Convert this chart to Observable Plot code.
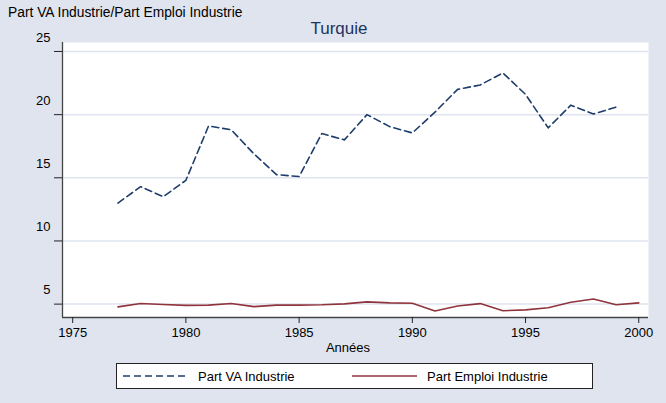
<!DOCTYPE html>
<html>
<head>
<meta charset="utf-8">
<script src="https://cdn.jsdelivr.net/npm/d3@7"></script>
<script src="https://cdn.jsdelivr.net/npm/@observablehq/plot@0.6"></script>
<style>
html, body { margin: 0; padding: 0; background: #dfe4ef; }
#wrap { position: relative; width: 666px; height: 403px; overflow: hidden; font-family: "Liberation Sans", Arial, sans-serif; color: #000; }
#wrap svg { position: absolute; left: 0; top: 0; }
.abs { position: absolute; white-space: nowrap; line-height: 1; }
#ytitle { left: 8px; top: 6px; font-size: 13.8px; }
#title { left: 339px; top: 20px; font-size: 17px; color: #1c3461; transform: translateX(-50%); }
#xtitle { left: 348px; top: 341px; font-size: 13px; transform: translateX(-50%); }
#legend { position: absolute; left: 116px; top: 363px; width: 475px; height: 24px; background: #fff; border: 1px solid #222; }
#legend .item { position: absolute; top: 0; height: 24px; display: flex; align-items: center; font-size: 13px; }
#legend svg { position: static; margin-right: 10px; }
</style>
</head>
<body>
<div id="wrap"></div>
<script>
// ---- data ----
const vaYears = [1977,1978,1979,1980,1981,1982,1983,1984,1985,1986,1987,1988,1989,1990,1991,1992,1993,1994,1995,1996,1997,1998,1999];
const partVA = [13.0,14.3,13.5,14.8,19.1,18.8,16.9,15.25,15.1,18.5,18.0,20.0,19.05,18.55,20.2,22.0,22.35,23.3,21.6,18.95,20.75,20.05,20.6];
const emploiYears = [1977,1978,1979,1980,1981,1982,1983,1984,1985,1986,1987,1988,1989,1990,1991,1992,1993,1994,1995,1996,1997,1998,1999,2000];
const partEmploi = [4.78,5.05,4.97,4.9,4.92,5.05,4.8,4.92,4.92,4.95,5.02,5.18,5.1,5.07,4.45,4.85,5.04,4.48,4.54,4.71,5.15,5.4,4.95,5.1];
const xTicks = [1975,1980,1985,1990,1995,2000];
const yTicks = [5,10,15,20,25];
const seriesNames = ["Part VA Industrie", "Part Emploi Industrie"];
const chartTitle = "Turquie";
const yTitle = "Part VA Industrie/Part Emploi Industrie";
const xTitle = "Années";

const navy = "#1e3d6d";
const maroon = "#8f343d";

const vaRows = vaYears.map((y, i) => ({year: y, value: partVA[i], series: seriesNames[0]}));
const emRows = emploiYears.map((y, i) => ({year: y, value: partEmploi[i], series: seriesNames[1]}));

const xDomain = [1974.55, 2000.43];
const yDomain = [3.94, 25.71];

const chart = Plot.plot({
  width: 666,
  height: 403,
  marginLeft: 62,
  marginRight: 18,
  marginTop: 42,
  marginBottom: 86,
  style: {background: "transparent", fontFamily: "'Liberation Sans', Arial, sans-serif", fontSize: "13px", color: "#000", overflow: "visible"},
  x: {domain: xDomain},
  y: {domain: yDomain},
  marks: [
    Plot.frame({fill: "#fff", stroke: null}),
    Plot.gridY(yTicks, {stroke: "#dfe4ef", strokeOpacity: 1, strokeWidth: 1.5}),
    Plot.ruleX([xDomain[0]], {stroke: "#444", strokeWidth: 1.3}),
    Plot.ruleY([yDomain[0]], {stroke: "#444", strokeWidth: 1.3}),
    Plot.axisX({ticks: xTicks, tickSize: 6, tickPadding: 4, tickFormat: d => String(d), label: null, stroke: "#222", fontSize: 13}),
    Plot.axisY({ticks: yTicks, tickSize: 8, tickFormat: () => "", label: null, stroke: "#222"}),
    Plot.text(yTicks, {y: d => d, text: d => String(d), frameAnchor: "left", textAnchor: "end", dx: -12, dy: -14, fontSize: 13}),
    Plot.line(vaRows, {x: "year", y: "value", stroke: navy, strokeWidth: 1.6, strokeDasharray: "7,4"}),
    Plot.line(emRows, {x: "year", y: "value", stroke: maroon, strokeWidth: 1.6})
  ]
});

const wrap = document.getElementById("wrap");
wrap.appendChild(chart);

function addText(id, txt) {
  const d = document.createElement("div");
  d.className = "abs"; d.id = id; d.textContent = txt;
  wrap.appendChild(d);
}
addText("ytitle", yTitle);
addText("title", chartTitle);
addText("xtitle", xTitle);

const legend = document.createElement("div");
legend.id = "legend";
const items = [
  {name: seriesNames[0], color: navy, dash: "7,4", left: 6},
  {name: seriesNames[1], color: maroon, dash: null, left: 235}
];
for (const it of items) {
  const item = document.createElement("div");
  item.className = "item";
  item.style.left = it.left + "px";
  const ns = "http://www.w3.org/2000/svg";
  const s = document.createElementNS(ns, "svg");
  s.setAttribute("width", 65); s.setAttribute("height", 10);
  const l = document.createElementNS(ns, "line");
  l.setAttribute("x1", 0); l.setAttribute("x2", 65); l.setAttribute("y1", 5); l.setAttribute("y2", 5);
  l.setAttribute("stroke", it.color); l.setAttribute("stroke-width", 1.6);
  if (it.dash) l.setAttribute("stroke-dasharray", it.dash);
  s.appendChild(l);
  item.appendChild(s);
  const t = document.createElement("span");
  t.textContent = it.name;
  item.appendChild(t);
  legend.appendChild(item);
}
wrap.appendChild(legend);
</script>
</body>
</html>
